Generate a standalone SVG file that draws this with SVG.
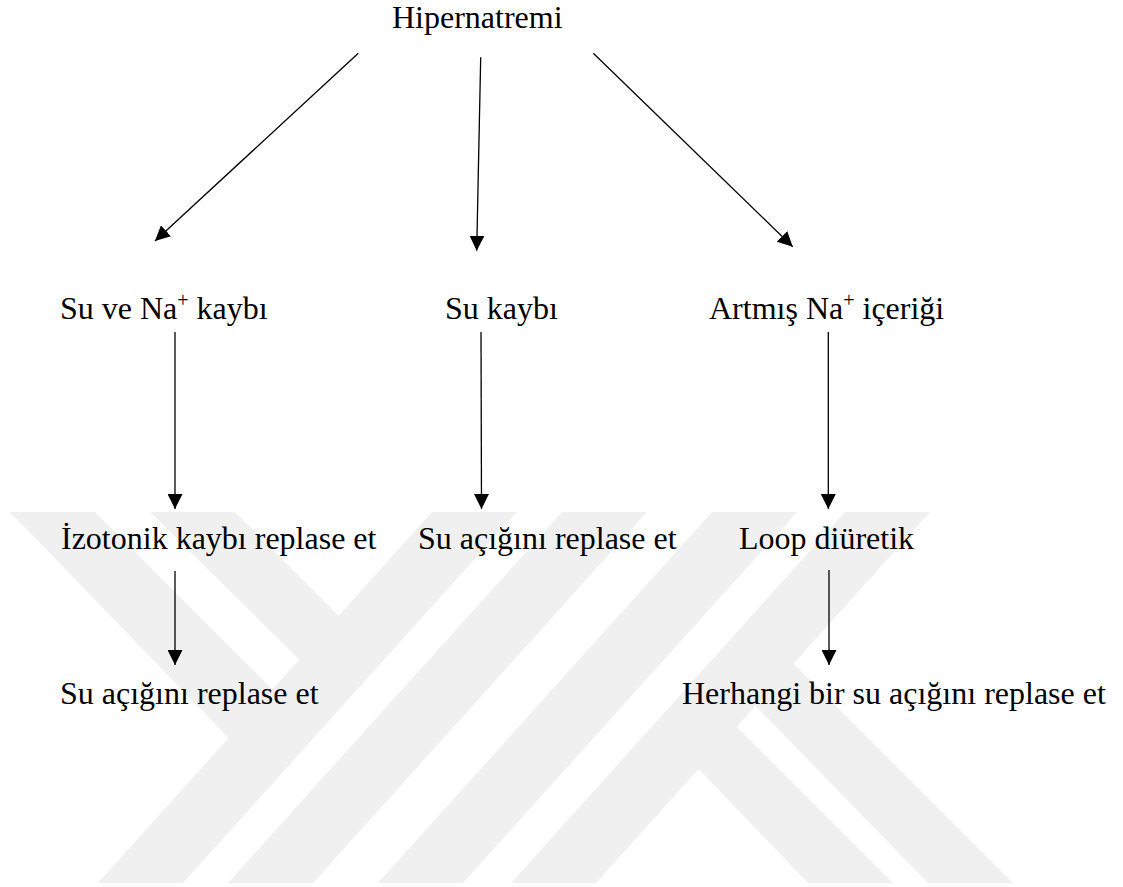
<svg xmlns="http://www.w3.org/2000/svg" width="1123" height="887" viewBox="0 0 1123 887">
  <style>
    .t { font-family: "Liberation Serif", "Times New Roman", serif; font-size: 32px; fill: #000; }
    .sup { font-size: 20px; }
    .c { stroke: #000; stroke-width: 1.3; fill: none; marker-end: url(#ah); }
    .wm { fill: #f0f0f0; }
  </style>
  <defs>
    <marker id="ah" markerUnits="userSpaceOnUse" markerWidth="15" markerHeight="15" refX="15" refY="7.5" orient="auto">
      <path d="M0,0 L15,7.5 L0,15 Z" fill="#000"/>
    </marker>
    <clipPath id="wmclip">
      <rect x="0" y="512" width="1123" height="371"/>
    </clipPath>
  </defs>
  <rect x="0" y="0" width="1123" height="887" fill="#fff"/>

  <g id="watermark" clip-path="url(#wmclip)">
    <polygon class="wm" points="10,512 95,512 300,717 250,760 "/>
    <polygon class="wm" points="150,512 235,512 360,637 320,680"/>
    <polygon class="wm" points="432,512 517,512 183,883 98,883"/>
    <polygon class="wm" points="562,512 647,512 313,883 228,883"/>
    <polygon class="wm" points="712,512 797,512 463,883 378,883"/>
    <polygon class="wm" points="845,512 930,512 596,883 511,883"/>
    <polygon class="wm" points="690,760 730,720 893,883 808,883"/>
    <polygon class="wm" points="740,690 780,650 1013,883 928,883"/>
  </g>

  <g id="connectors">
    <line class="c" x1="358.3" y1="53.3" x2="155" y2="241"/>
    <line class="c" x1="480.7" y1="57.3" x2="476.7" y2="250.7"/>
    <line class="c" x1="593.3" y1="53.3" x2="792.7" y2="246.7"/>
    <line class="c" x1="175" y1="332" x2="175" y2="509"/>
    <line class="c" x1="481" y1="332" x2="481.5" y2="509"/>
    <line class="c" x1="828.3" y1="332" x2="828.3" y2="509"/>
    <line class="c" x1="175" y1="571" x2="175" y2="665"/>
    <line class="c" x1="829" y1="570" x2="829" y2="665"/>
  </g>

  <g id="n-hipernatremi"><text class="t" x="392" y="28">Hipernatremi</text></g>
  <g id="n-su-na-kaybi"><text class="t" x="60" y="319">Su ve Na<tspan class="sup" dy="-12">+</tspan><tspan dy="12"> kaybı</tspan></text></g>
  <g id="n-su-kaybi"><text class="t" x="445" y="319">Su kaybı</text></g>
  <g id="n-artmis-na"><text class="t" x="709" y="319">Artmış Na<tspan class="sup" dy="-12">+</tspan><tspan dy="12"> içeriği</tspan></text></g>
  <g id="n-izotonik"><text class="t" x="61" y="549">İzotonik kaybı replase et</text></g>
  <g id="n-su-acigi-1"><text class="t" x="418" y="549">Su açığını replase et</text></g>
  <g id="n-loop"><text class="t" x="739" y="549">Loop diüretik</text></g>
  <g id="n-su-acigi-2"><text class="t" x="60" y="704">Su açığını replase et</text></g>
  <g id="n-herhangi"><text class="t" x="682" y="704">Herhangi bir su açığını replase et</text></g>
</svg>
